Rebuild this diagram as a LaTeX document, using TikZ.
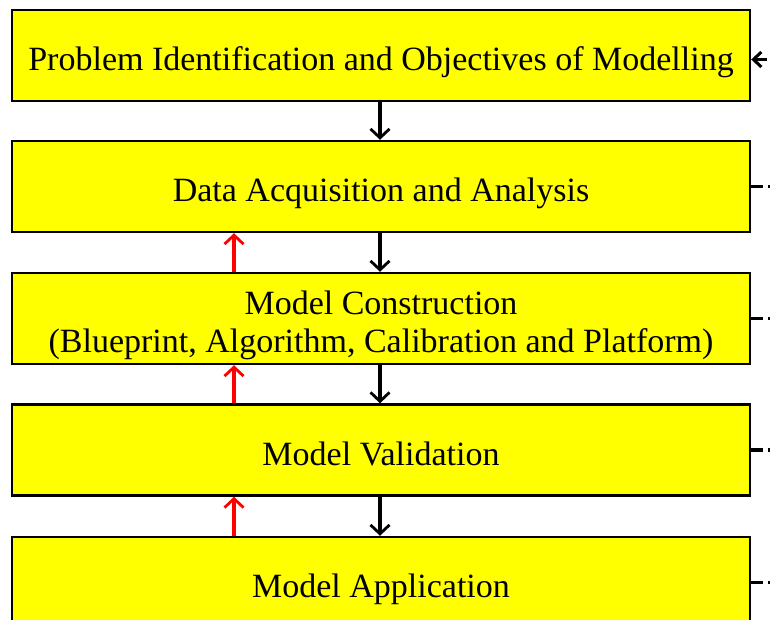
\documentclass[tikz,border=0pt]{standalone}
\usepackage{fontspec}
\setmainfont{Liberation Serif}
\usetikzlibrary{arrows.meta}
\definecolor{stageyellow}{RGB}{255,255,0}
\begin{document}
\begin{tikzpicture}[x=1pt,y={(0,-1pt)},
    stage/.style={draw=black,line width=2.4pt,fill=stageyellow,minimum width=738pt,
      minimum height=91pt,inner sep=0pt,align=center,text height=30pt,text depth=0pt,
      font=\fontsize{34}{38}\selectfont},
    down/.style={line width=3.2pt,-{Straight Barb[length=9pt,width=19pt,line width=2.8pt]}},
    back/.style={red,line width=3.2pt,-{Straight Barb[length=9pt,width=19pt,line width=2.8pt]}},
    loop/.style={line width=3.6pt,dash pattern=on 12pt off 5pt}]
      \useasboundingbox (0,0) rectangle (770,620);

      % Draw the stages of modelling
      \node[stage] (prob) at (381,55.5) {Problem Identification and Objectives of Modelling};
      \node[stage] (data) at (381,186.5) {Data Acquisition and Analysis};
      \node[stage,text height=67pt,text depth=0pt] (cons) at (381,318.5) {Model Construction\\(Blueprint, Algorithm, Calibration and Platform)};
      \node[stage] (vali) at (381,450) {Model Validation};
      \node[stage] (appl) at (381,582.5) {Model Application};

      % Forward flow between stages
      \draw[down] (prob.south -| 380,0) -- (data.north -| 380,0);
      \draw[down] (data.south -| 380,0) -- (cons.north -| 380,0);
      \draw[down] (cons.south -| 380,0) -- (vali.north -| 380,0);
      \draw[down] (vali.south -| 380,0) -- (appl.north -| 380,0);

      % Feedback to the previous stage
      \draw[back] (cons.north -| 234,0) -- (data.south -| 234,0);
      \draw[back] (vali.north -| 234,0) -- (cons.south -| 234,0);
      \draw[back] (appl.north -| 234,0) -- (vali.south -| 234,0);

      % Loop on the right
      \coordinate (edge) at (776,0);
      \draw[loop,{Straight Barb[length=8pt,width=15pt,line width=3pt]}-] ([yshift=-4pt]prob.east) -- ([yshift=-4pt]prob.east -| edge);
      \foreach \s in {data,cons,vali,appl} {
          \draw[loop] (\s.east) -- (\s.east -| edge);
      }
    \end{tikzpicture}
\end{document}
